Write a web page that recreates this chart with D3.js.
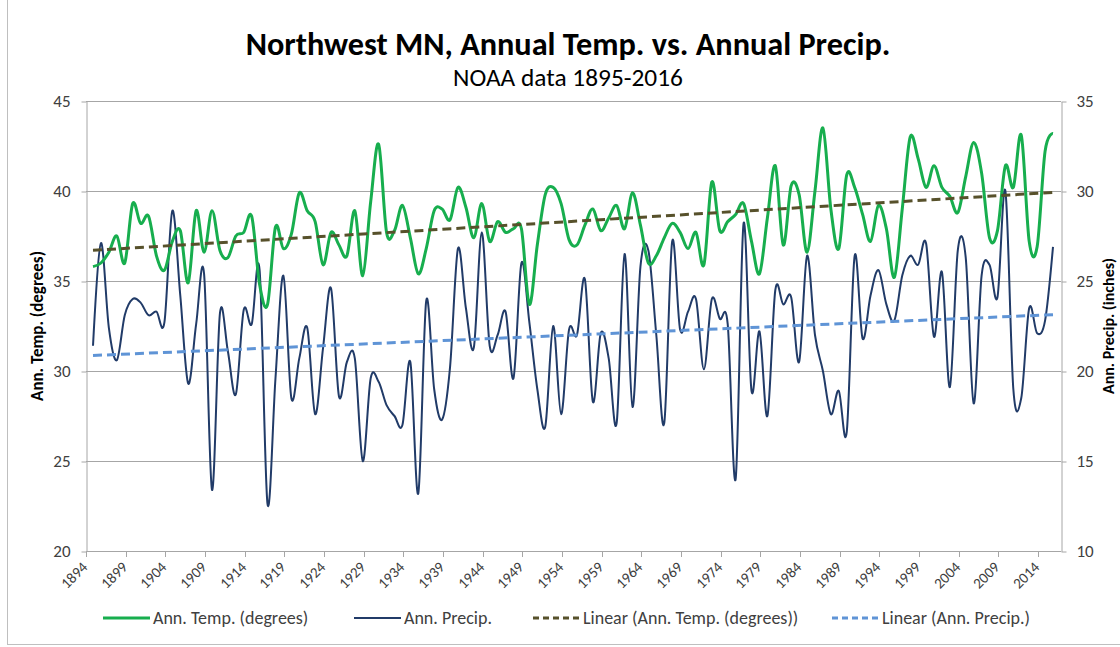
<!DOCTYPE html>
<html>
<head>
<meta charset="utf-8">
<title>Northwest MN, Annual Temp. vs. Annual Precip.</title>
<style>
body { margin: 0; background: #fff; }
text { font-family: Carlito, Calibri, Lato, sans-serif; fill: #404040; }
.grid line { stroke: #a6a6a6; stroke-width: 1px; }
.axis path, .axis line { stroke: #a6a6a6; }
</style>
</head>
<body>
<script src="https://cdn.jsdelivr.net/npm/d3@7/dist/d3.min.js"></script>
<script>

// categories: first year of the category axis, one value per year
var firstYear = 1894;

// annual mean temperature (degrees F)
var temp = [
  35.8, 36.0, 36.6, 37.5, 36.0, 39.3, 38.2, 38.6, 36.4, 35.6,
  37.2, 37.8, 34.9, 38.9, 36.6, 38.9, 36.7, 36.3, 37.5, 37.7,
  38.6, 34.8, 33.7, 38.0, 36.8, 37.6, 39.9, 38.9, 38.3, 35.9,
  37.7, 37.0, 36.4, 38.9, 35.3, 39.4, 42.6, 37.7, 37.8, 39.2,
  37.4, 35.4, 36.8, 38.9, 39.0, 38.4, 40.2, 39.1, 37.4, 39.3,
  37.2, 38.3, 37.7, 37.9, 37.9, 33.7, 37.0, 39.8, 40.2, 39.3,
  37.3, 37.0, 38.1, 39.0, 37.8, 38.5, 39.2, 37.9, 39.9, 38.1,
  36.0, 36.4, 37.4, 38.2, 37.7, 36.8, 37.7, 35.9, 40.5, 37.8,
  38.3, 38.7, 39.3, 37.2, 35.4, 38.5, 41.4, 37.0, 40.3, 39.8,
  36.6, 40.0, 43.5, 39.0, 36.8, 40.9, 40.2, 38.7, 37.2, 39.2,
  37.9, 35.2, 39.0, 43.0, 41.8, 40.2, 41.4, 40.2, 39.7, 38.8,
  40.8, 42.7, 41.0, 37.4, 37.8, 41.4, 40.2, 43.1, 37.2, 36.9,
  42.2, 43.2
];

// annual precipitation (inches)
var precip = [
  21.4, 27.1, 22.4, 20.6, 23.1, 24.0, 23.8, 23.1, 23.3, 22.7,
  28.9, 24.2, 19.3, 22.6, 25.4, 13.4, 23.2, 21.1, 18.7, 23.4,
  22.6, 25.6, 12.6, 19.6, 25.3, 18.5, 20.7, 22.4, 17.6, 21.3,
  24.6, 18.6, 20.5, 20.7, 15.0, 19.6, 19.4, 18.1, 17.5, 17.0,
  20.5, 13.2, 23.9, 19.0, 17.3, 20.2, 26.8, 23.5, 21.3, 27.7,
  21.4, 22.0, 23.3, 19.6, 26.0, 22.7, 19.0, 16.9, 22.5, 17.6,
  22.3, 22.0, 25.1, 18.3, 22.1, 20.7, 17.1, 26.5, 18.0, 25.8,
  26.7, 22.0, 17.1, 27.2, 22.3, 23.3, 24.0, 20.1, 24.0, 22.9,
  22.6, 14.0, 28.2, 18.9, 22.2, 17.5, 24.5, 23.7, 24.1, 20.5,
  26.4, 22.0, 20.0, 17.6, 18.9, 16.6, 26.4, 21.8, 24.2, 25.6,
  23.7, 22.8, 25.3, 26.4, 25.9, 27.1, 21.9, 25.5, 19.1, 26.7,
  26.3, 18.2, 25.3, 25.9, 24.1, 30.0, 19.0, 18.5, 23.5, 22.1,
  22.8, 26.9
];

var tempTicks = [20, 25, 30, 35, 40, 45];
var precipTicks = [10, 15, 20, 25, 30, 35];
var yearLabels = [1894, 1899, 1904, 1909, 1914, 1919, 1924, 1929, 1934, 1939,
  1944, 1949, 1954, 1959, 1964, 1969, 1974, 1979, 1984, 1989,
  1994, 1999, 2004, 2009, 2014];

var legendLabels = ["Ann. Temp. (degrees)", "Ann. Precip.",
  "Linear (Ann. Temp. (degrees))", "Linear (Ann. Precip.)"];

var width = 1120,
    height = 647;
var plotLeft = 86, plotRight = 1061, plotTop = 101, plotBottom = 551;

var colTemp = "#17ae4e",
    colPrecip = "#213b68",
    colTempTrend = "#57512b",
    colPrecipTrend = "#5f94d6";

var svg = d3.select("body").append("svg")
    .attr("width", width)
    .attr("height", height);

// chart border
svg.append("rect")
    .attr("x", 7.5).attr("y", -2)
    .attr("width", width + 10).attr("height", 646.5)
    .attr("fill", "none")
    .attr("stroke", "#bfbfbf");

// scales
var x = d3.scaleLinear()
    .domain([firstYear, firstYear + temp.length - 1])
    .range([93, 1053]);
var yT = d3.scaleLinear().domain([20, 45]).range([plotBottom, plotTop]);
var yP = d3.scaleLinear().domain([10, 35]).range([plotBottom, plotTop]);

// gridlines
svg.append("g").attr("class", "grid")
  .selectAll("line")
  .data(tempTicks)
  .enter().append("line")
    .attr("x1", plotLeft).attr("x2", plotRight)
    .attr("y1", function(d) { return yT(d) + 0.5; })
    .attr("y2", function(d) { return yT(d) + 0.5; });

// left axis
var axL = svg.append("g").attr("class", "axis")
    .attr("transform", "translate(" + (plotLeft + 0.5) + ",0.5)")
    .call(d3.axisLeft(yT).tickValues(tempTicks).tickSize(5).tickSizeOuter(0).tickPadding(11));
axL.selectAll("text").style("font-size", "17px").attr("fill", "#404040");

// right axis
var axR = svg.append("g").attr("class", "axis")
    .attr("transform", "translate(" + (plotRight + 0.5) + ",0.5)")
    .call(d3.axisRight(yP).tickValues(precipTicks).tickSize(5).tickSizeOuter(0).tickPadding(10));
axR.selectAll("text").style("font-size", "17px").attr("fill", "#404040");

// bottom axis (category ticks sit just before each labelled year)
var tickX = function(yr) { return Math.round(x(yr - 0.88)) + 0.5; };
var axB = svg.append("g").attr("class", "axis");
axB.append("line")
    .attr("x1", plotLeft).attr("x2", plotRight)
    .attr("y1", plotBottom + 0.5).attr("y2", plotBottom + 0.5);
axB.selectAll(".tk")
  .data(yearLabels)
  .enter().append("line")
    .attr("class", "tk")
    .attr("x1", tickX).attr("x2", tickX)
    .attr("y1", plotBottom).attr("y2", plotBottom + 6);
axB.selectAll("text")
  .data(yearLabels)
  .enter().append("text")
    .attr("text-anchor", "end")
    .attr("transform", function(d) {
      return "translate(" + (tickX(d) + 2) + "," + (plotBottom + 17) + ") rotate(-45)";
    })
    .style("font-size", "15px")
    .text(function(d) { return d; });

// trend lines (least squares over the plotted years)
function fit(vals) {
  var xs = vals.map(function(v, i) { return firstYear + i; });
  var mx = d3.mean(xs), my = d3.mean(vals);
  var sxy = d3.sum(xs, function(xv, i) { return (xv - mx) * (vals[i] - my); });
  var sxx = d3.sum(xs, function(xv) { return (xv - mx) * (xv - mx); });
  var b = sxy / sxx, a = my - b * mx;
  return [xs[0], xs[xs.length - 1]].map(function(xv) { return [xv, a + b * xv]; });
}

var smooth = d3.line().curve(d3.curveCardinal.tension(0));

svg.append("path")
    .datum(precip.map(function(v, i) { return [x(firstYear + i), yP(v)]; }))
    .attr("fill", "none")
    .attr("stroke", colPrecip)
    .attr("stroke-width", 2)
    .attr("d", smooth);

svg.append("path")
    .datum(temp.map(function(v, i) { return [x(firstYear + i), yT(v)]; }))
    .attr("fill", "none")
    .attr("stroke", colTemp)
    .attr("stroke-width", 3)
    .attr("d", smooth);

svg.append("path")
    .datum(fit(temp).map(function(p) { return [x(p[0]), yT(p[1])]; }))
    .attr("fill", "none")
    .attr("stroke", colTempTrend)
    .attr("stroke-width", 3)
    .attr("stroke-dasharray", "9,5")
    .attr("d", d3.line());

svg.append("path")
    .datum(fit(precip).map(function(p) { return [x(p[0]), yP(p[1])]; }))
    .attr("fill", "none")
    .attr("stroke", colPrecipTrend)
    .attr("stroke-width", 3)
    .attr("stroke-dasharray", "9,5")
    .attr("d", d3.line());

// titles
function fitWidth(sel, w) {
  var fs = parseFloat(sel.style("font-size"));
  var cur = sel.node().getComputedTextLength();
  sel.style("font-size", (fs * w / cur) + "px");
}

var title = svg.append("text")
    .attr("x", 568).attr("y", 55)
    .attr("text-anchor", "middle")
    .style("font-size", "28px").style("font-weight", "bold")
    .style("fill", "#000")
    .text("Northwest MN, Annual Temp. vs. Annual Precip.");
fitWidth(title, 645);

var sub = svg.append("text")
    .attr("x", 568).attr("y", 86)
    .attr("text-anchor", "middle")
    .style("font-size", "20px")
    .style("fill", "#000")
    .text("NOAA data 1895-2016");
fitWidth(sub, 230);

svg.append("text")
    .attr("transform", "translate(43,326) rotate(-90)")
    .attr("text-anchor", "middle")
    .style("font-size", "17px").style("font-weight", "bold")
    .style("fill", "#000")
    .text("Ann. Temp. (degrees)");

svg.append("text")
    .attr("transform", "translate(1114,326) rotate(-90)")
    .attr("text-anchor", "middle")
    .style("font-size", "16px").style("font-weight", "bold")
    .style("fill", "#000")
    .text("Ann. Precip. (inches)");

// legend
var legendX = [103, 354, 533, 832];
var legendStyle = [
  {color: colTemp, w: 3, dash: null},
  {color: colPrecip, w: 2, dash: null},
  {color: colTempTrend, w: 3, dash: "6,4"},
  {color: colPrecipTrend, w: 3, dash: "6,4"}
];
var leg = svg.append("g").selectAll("g")
    .data(legendLabels)
  .enter().append("g")
    .attr("transform", function(d, i) { return "translate(" + legendX[i] + ",618)"; });
leg.append("line")
    .attr("x1", 0).attr("x2", 47)
    .attr("stroke", function(d, i) { return legendStyle[i].color; })
    .attr("stroke-width", function(d, i) { return legendStyle[i].w; })
    .attr("stroke-dasharray", function(d, i) { return legendStyle[i].dash; });
leg.append("text")
    .attr("x", 50).attr("y", 6)
    .style("font-size", "18px")
    .text(function(d) { return d; });

</script>
</body>
</html>
